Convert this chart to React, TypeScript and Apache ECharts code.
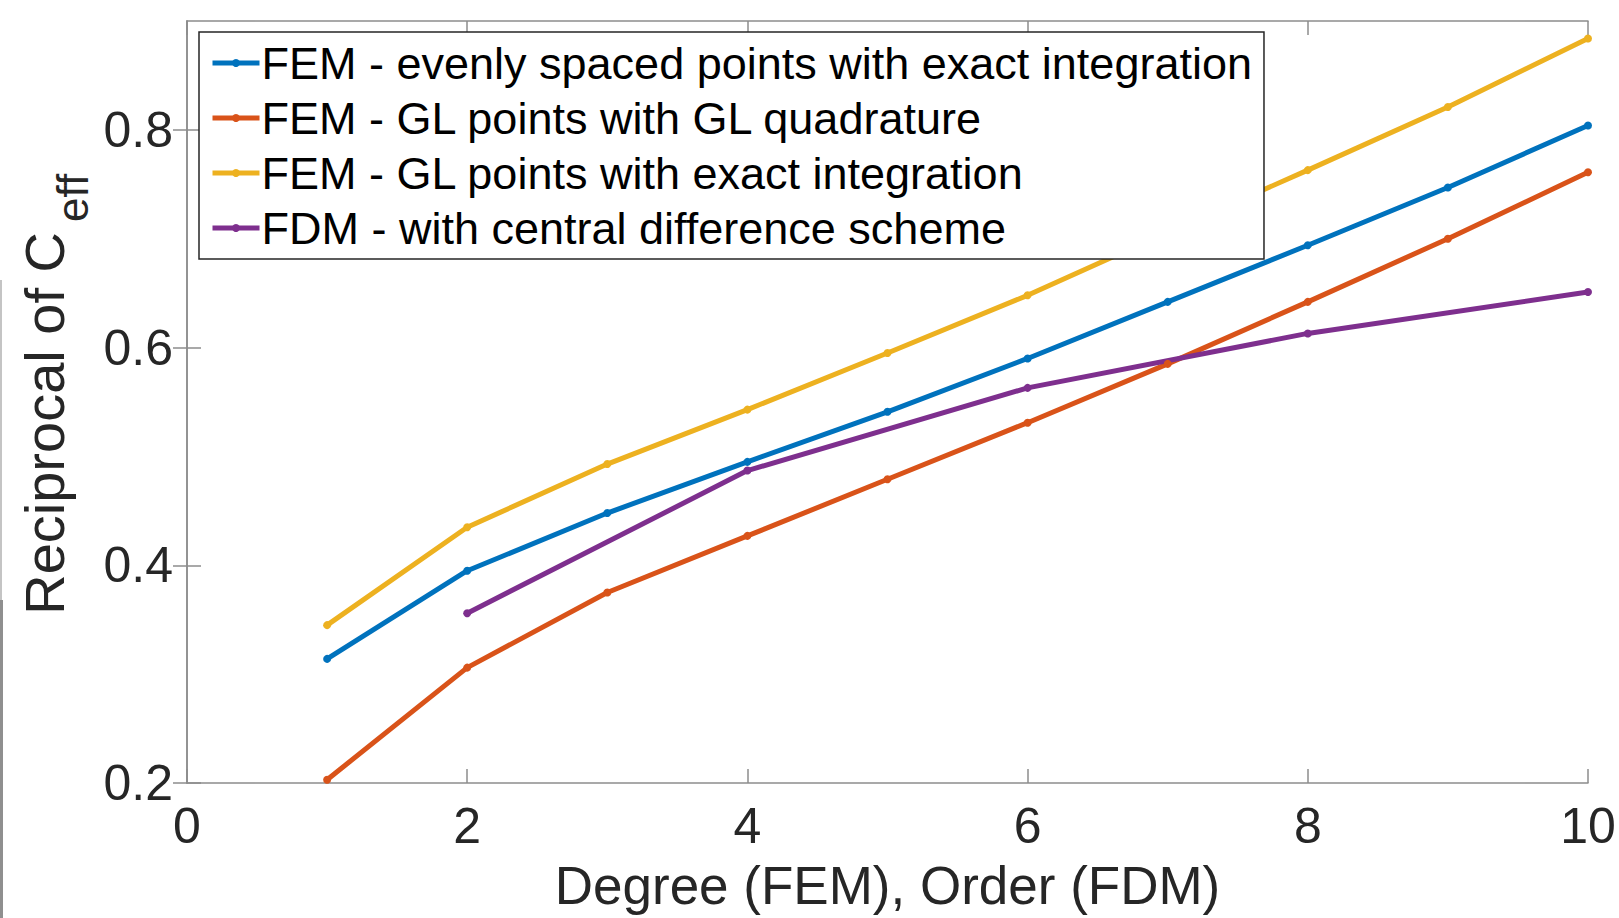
import React, { useEffect, useRef } from "react";
import * as echarts from "echarts";

const xValues = [1, 2, 3, 4, 5, 6, 7, 8, 9, 10];
const femEven = [0.314, 0.395, 0.448, 0.495, 0.541, 0.590, 0.642, 0.694, 0.747, 0.804];
const femGLQuad = [0.203, 0.306, 0.375, 0.427, 0.479, 0.531, 0.585, 0.642, 0.700, 0.761];
const femGLExact = [0.345, 0.435, 0.493, 0.543, 0.595, 0.648, 0.706, 0.763, 0.821, 0.884];
const fdmX = [2, 4, 6, 8, 10];
const fdmCentral = [0.356, 0.487, 0.563, 0.613, 0.651];

const yTicks = [0.2, 0.4, 0.6, 0.8];

const seriesNames = [
  "FEM - evenly spaced points with exact integration",
  "FEM - GL points with GL quadrature",
  "FEM - GL points with exact integration",
  "FDM - with central difference scheme",
];
const colors = ["#0072BD", "#D95319", "#EDB120", "#7E2F8E"];

const FONT = "'Liberation Sans', Arial, Helvetica, sans-serif";

export default function App() {
  const ref = useRef<HTMLDivElement>(null);
  useEffect(() => {
    if (!ref.current) return;
    const chart = echarts.init(ref.current, null, { renderer: "svg" });
    const axisLine = { show: true, lineStyle: { color: "#8c8c8c", width: 1.5 } };
    const tick = { show: true, inside: true, length: 14, lineStyle: { color: "#8c8c8c", width: 1.5 } };
    const mk = (xs: number[], ys: number[]) => xs.map((x, i) => [x, ys[i]]);
    const datasets = [
      mk(xValues, femEven),
      mk(xValues, femGLQuad),
      mk(xValues, femGLExact),
      mk(fdmX, fdmCentral),
    ];
    chart.setOption({
      animation: false,
      backgroundColor: "#ffffff",
      grid: {
        left: 187,
        top: 21,
        right: 31,
        bottom: 135,
        containLabel: false,
        outerBoundsMode: "none",
      },
      xAxis: [
        {
          type: "value",
          min: 0,
          max: 10,
          interval: 2,
          position: "bottom",
          axisLine,
          axisTick: tick,
          splitLine: { show: false },
          axisLabel: { color: "#262626", fontSize: 50, fontFamily: FONT, margin: 18 },
          name: "Degree (FEM), Order (FDM)",
          nameLocation: "middle",
          nameGap: 76,
          nameTextStyle: { color: "#262626", fontSize: 53, fontFamily: FONT },
        },
        {
          type: "value",
          min: 0,
          max: 10,
          interval: 2,
          position: "top",
          axisLine,
          axisTick: tick,
          splitLine: { show: false },
          axisLabel: { show: false },
        },
      ],
      yAxis: [
        {
          type: "value",
          min: 0.2,
          max: 0.9,
          interval: 0.2,
          position: "left",
          axisLine,
          axisTick: { ...tick, customValues: yTicks },
          splitLine: { show: false },
          axisLabel: {
            color: "#262626",
            fontSize: 50,
            fontFamily: FONT,
            margin: 14,
            customValues: yTicks,
            formatter: (v: number) => v.toFixed(1),
          },
        },
        {
          type: "value",
          min: 0.2,
          max: 0.9,
          interval: 0.2,
          position: "right",
          axisLine,
          axisTick: { ...tick, customValues: yTicks },
          splitLine: { show: false },
          axisLabel: { show: false },
        },
      ],
      legend: {
        orient: "vertical",
        left: 199,
        top: 32,
        z: 20,
        padding: [6, 12, 6, 11],
        itemGap: 5,
        itemWidth: 47,
        itemHeight: 10,
        backgroundColor: "#ffffff",
        borderColor: "#262626",
        borderWidth: 1.5,
        borderRadius: 0,
        lineStyle: { width: 5 },
        textStyle: { color: "#000000", fontSize: 45, fontFamily: FONT, lineHeight: 50, padding: [0, 0, 0, -3] },
        data: seriesNames,
      },
      series: seriesNames.map((name, i) => ({
        name,
        type: "line",
        xAxisIndex: 0,
        yAxisIndex: 0,
        data: datasets[i],
        symbol: "circle",
        symbolSize: 8,
        showSymbol: true,
        lineStyle: { color: colors[i], width: 5 },
        itemStyle: { color: colors[i] },
        z: 2,
      })),
      graphic: [
        {
          type: "text",
          x: 44,
          y: 232,
          z: 10,
          rotation: Math.PI / 2,
          style: {
            text: "Reciprocal of C",
            fill: "#262626",
            font: `56px ${FONT}`,
            align: "right",
            verticalAlign: "middle",
          },
        },
        {
          type: "text",
          x: 72,
          y: 222,
          z: 10,
          rotation: Math.PI / 2,
          style: {
            text: "eff",
            fill: "#262626",
            font: `44px ${FONT}`,
            align: "left",
            verticalAlign: "middle",
          },
        },
        {
          type: "line",
          shape: { x1: 1, y1: 280, x2: 1, y2: 918 },
          style: { stroke: "#c4c4c4", lineWidth: 2 },
        },
        {
          type: "line",
          shape: { x1: 1.5, y1: 600, x2: 1.5, y2: 918 },
          style: { stroke: "#8f8f8f", lineWidth: 3 },
        },
      ],
    });
    return () => chart.dispose();
  }, []);
  return (
    <div
      ref={ref}
      style={{ position: "fixed", left: 0, top: 0, width: 1619, height: 918, background: "#fff" }}
    />
  );
}
